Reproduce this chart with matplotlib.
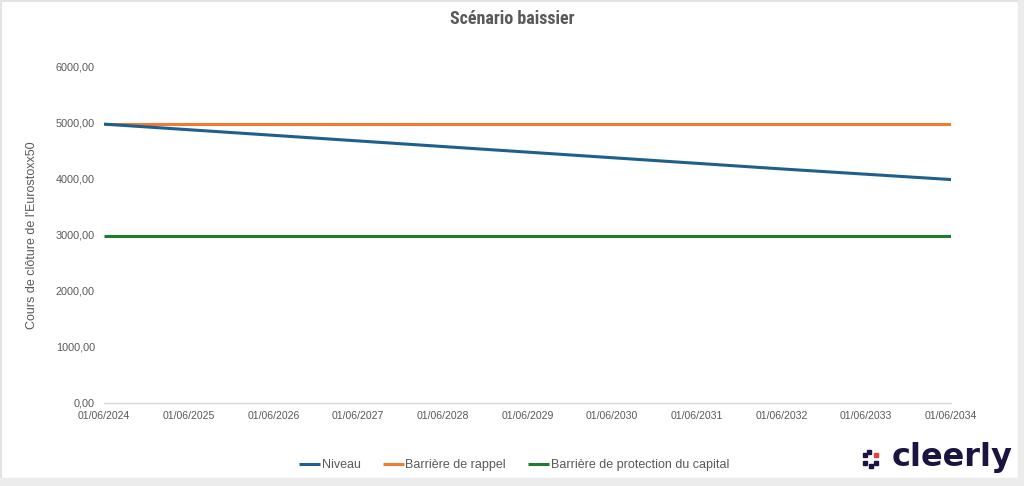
import matplotlib
matplotlib.use("Agg")
import matplotlib.pyplot as plt
from matplotlib.patches import Rectangle

dates = ["01/06/2024", "01/06/2025", "01/06/2026", "01/06/2027", "01/06/2028",
         "01/06/2029", "01/06/2030", "01/06/2031", "01/06/2032", "01/06/2033", "01/06/2034"]
niveau = [4980, 4880, 4780, 4680, 4580, 4480, 4380, 4280, 4180, 4085, 3990]
rappel = [4980] * 11
protection = [2988] * 11
yticks = [0, 1000, 2000, 3000, 4000, 5000, 6000]

title = "Scénario baissier"
ylabel = "Cours de clôture de l'Eurostoxx50"
names = ["Niveau", "Barrière de rappel", "Barrière de protection du capital"]
colors = ["#1F5F8B", "#F07B35", "#217A2E"]

cond = ["Roboto Condensed", "DejaVu Sans"]
reg = ["Liberation Sans", "DejaVu Sans"]

fig = plt.figure(figsize=(10.24, 4.86), dpi=100)
fig.patch.set_facecolor("white")
ax = fig.add_axes([104/1024, 1-403/486, (951-104)/1024, (403-67)/486])

x = list(range(len(dates)))
l1, = ax.plot(x, niveau, color=colors[0], lw=2.2, solid_capstyle="butt", zorder=3)
l2, = ax.plot(x, rappel, color=colors[1], lw=2.2, solid_capstyle="butt", zorder=2)
l3, = ax.plot(x, protection, color=colors[2], lw=2.2, solid_capstyle="butt", zorder=2)

ax.set_xlim(0, 10)
ax.set_ylim(0, 6000)
ax.set_yticks(yticks)
ax.set_yticklabels([f"{v:.2f}".replace(".", ",") for v in yticks],
                   fontsize=7.8, color="#595959", family=reg)
ax.set_xticks(x)
ax.set_xticklabels(dates, fontsize=7.6, color="#595959", family=reg)
ax.tick_params(length=0)
ax.tick_params(axis="y", pad=6.5)
ax.tick_params(axis="x", pad=6)
for s in ["top", "right", "left"]:
    ax.spines[s].set_visible(False)
ax.spines["bottom"].set_color("#D9D9D9")
ax.spines["bottom"].set_linewidth(1)

fig.text(32/1024, 1-235/486, ylabel, rotation=90, ha="center", va="center",
         fontsize=9, color="#595959", family=reg)

fig.text(512/1024, 1-19/486, title, ha="center", va="center", fontsize=13,
         fontweight="bold", color="#595959", family=cond)

leg = fig.legend([l1, l2, l3], names, loc="center", bbox_to_anchor=(514/1024, 1-465/486),
                 ncol=3, frameon=False, handlelength=1.7, handletextpad=0.12,
                 columnspacing=1.75, prop={"family": reg, "size": 9})
for t in leg.get_texts():
    t.set_color("#595959")

# logo
navy = "#1B1340"
fig.text(892/1024, 1-457/486, "cleerly", ha="left", va="center", fontsize=23,
         fontweight="bold", color=navy, family="DejaVu Sans")
lx, ly = 871, 459
pts = [(-6, -4, navy), (-2, -7, navy), (5, -4, "#E8413C"), (-6, 4, navy), (0, 7, navy), (5, 4, navy)]
for dx, dy, c in pts:
    fig.patches.append(Rectangle(((lx+dx-2)/1024, 1-(ly+dy+2)/486), 4/1024, 4/486,
                                 transform=fig.transFigure, color=c, figure=fig))

# frame
fig.patches.append(Rectangle((0, 0), 1, 1, transform=fig.transFigure, fill=False,
                             edgecolor="#E3E3E3", lw=3, figure=fig))
fig.patches.append(Rectangle((0, 0), 1, 8/486, transform=fig.transFigure, color="#ECECEC",
                             figure=fig))
fig.patches.append(Rectangle((1018/1024, 0), 6/1024, 1, transform=fig.transFigure, color="#ECECEC",
                             figure=fig))

fig.savefig("out.png", dpi=100, facecolor="white")
